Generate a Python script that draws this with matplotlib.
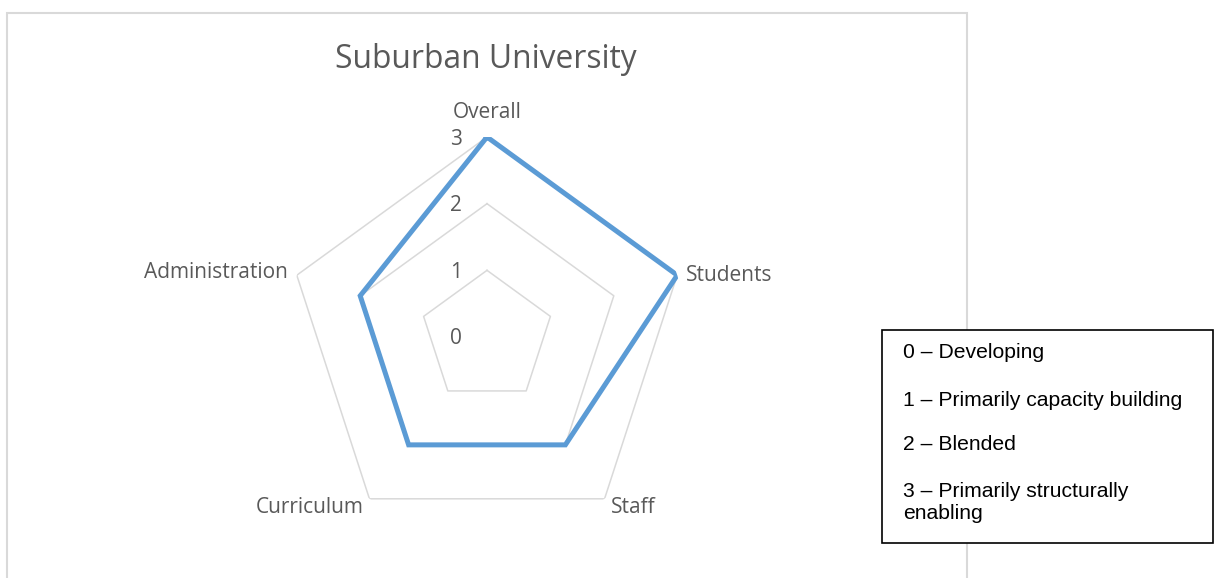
import numpy as np
import matplotlib
matplotlib.use("Agg")
import matplotlib.pyplot as plt
from matplotlib.patches import Rectangle

# data
categories = ["Overall", "Students", "Staff", "Curriculum", "Administration"]
scores = [3, 3, 2, 2, 2]
levels = [0, 1, 2, 3]
legend_lines = ["0 \u2013 Developing", "1 \u2013 Primarily capacity building",
                "2 \u2013 Blended", "3 \u2013 Primarily structurally\nenabling"]
title = "Suburban University"

W, H, DPI = 1215, 578, 100
fig = plt.figure(figsize=(W / DPI, H / DPI), dpi=DPI)
PX = 72 / DPI  # points per pixel

grey_txt = "#595959"
grid_col = "#d9d9d9"
blue = "#5b9bd5"

# chart area border (Excel style)
fig.add_artist(Rectangle((7 / W, -0.05), 960 / W, 1 - 13 / H + 0.05,
                         transform=fig.transFigure, fill=False,
                         edgecolor=grid_col, linewidth=1.5, zorder=0))

# radar axes: centre at (487, 337) px, radius ~200 px
cx, cy, R = 487, 337, 200
ax = fig.add_axes([(cx - R) / W, (H - cy - R) / H, 2 * R / W, 2 * R / H],
                  projection="polar")
ax.set_theta_zero_location("N")
ax.set_theta_direction(-1)
ax.set_ylim(0, max(levels))
ax.grid(False)
ax.spines["polar"].set_visible(False)
ax.set_xticks([])
ax.set_yticks([])
ax.patch.set_alpha(0)

n = len(categories)
theta = np.linspace(0, 2 * np.pi, n, endpoint=False)
theta_c = np.append(theta, theta[0])

for lv in levels[1:]:
    ax.plot(theta_c, [lv] * (n + 1), color=grid_col, linewidth=1.1, zorder=1)

vals = scores + scores[:1]
ax.plot(theta_c, vals, color=blue, linewidth=3.6, solid_joinstyle="miter", zorder=3)

font_cat = "Open Sans"
for lv in levels:
    ax.annotate(str(lv), xy=(0, lv), xytext=(-25 * PX, -2 * PX), textcoords="offset points",
                ha="right", va="center", fontsize=15, color=grey_txt, family=font_cat)

# category labels
offs = [(0, 25, "center", "center"), (9, 0, "left", "center"),
        (6, -9, "left", "center"), (-6, -9, "right", "center"),
        (-9, 3, "right", "center")]
for t, lab, (dx, dy, ha, va) in zip(theta, categories, offs):
    ax.annotate(lab, xy=(t, max(levels)), xytext=(dx * PX, dy * PX),
                textcoords="offset points", ha=ha, va=va, fontsize=15,
                color=grey_txt, family=font_cat, annotation_clip=False)

fig.text(486 / W, 1 - 59 / H, title, ha="center", va="center", fontsize=22.9,
         color=grey_txt, family=font_cat)

# scale legend box
fig.add_artist(Rectangle((882 / W, 1 - 543 / H), 331 / W, 213 / H,
                         transform=fig.transFigure, facecolor="white",
                         edgecolor="black", linewidth=1.2, zorder=5))
ys = [353, 401, 445, 492]
for y, s in zip(ys, legend_lines):
    fig.text(903 / W, 1 - (y - 10) / H, s, ha="left", va="top", fontsize=15.2,
             family="Liberation Sans", color="black", linespacing=1.2, zorder=6)

fig.savefig("out.png", dpi=DPI)
